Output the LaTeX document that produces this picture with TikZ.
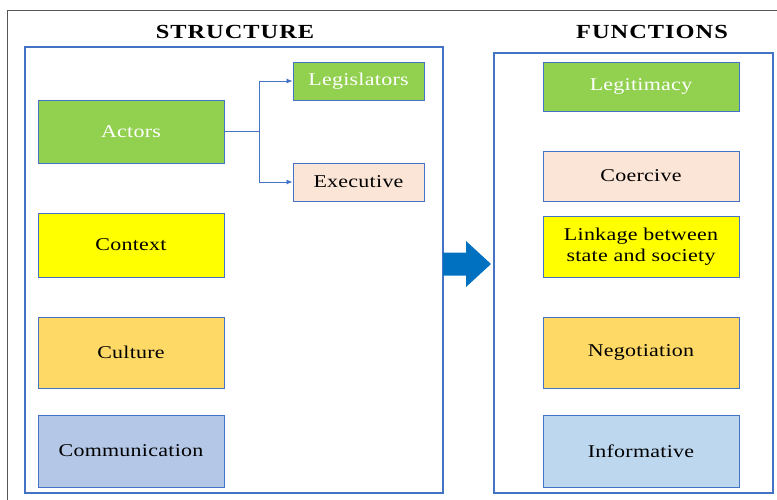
\documentclass[tikz,border=0pt]{standalone}
\usepackage{fontspec}
\setmainfont{Liberation Serif}[FakeStretch=1.22]
\usetikzlibrary{arrows.meta}
\definecolor{frameblue}{HTML}{4472C4}
\definecolor{arrowblue}{HTML}{0070C0}
\definecolor{cgreen}{HTML}{92D050}
\definecolor{cpeach}{HTML}{FBE5D6}
\definecolor{cyellow}{HTML}{FFFF00}
\definecolor{cgold}{HTML}{FFD966}
\definecolor{cslate}{HTML}{B4C7E7}
\definecolor{csky}{HTML}{BDD7EE}
\definecolor{outergrey}{HTML}{555555}
\tikzset{
  box/.style={draw=frameblue, line width=1pt, font=\fontsize{18}{20}\selectfont\addfontfeatures{LetterSpace=1.5}, align=center, inner sep=0pt},
  panel/.style={draw=frameblue, line width=1.8pt},
  heading/.style={font=\fontsize{20}{22}\selectfont\bfseries\addfontfeatures{LetterSpace=5}},
  link/.style={draw=frameblue, line width=0.8pt, -{Latex[length=6pt,width=5pt]}},
}
\begin{document}
\begin{tikzpicture}[x=1pt,y=-1pt]
\useasboundingbox (0,0) rectangle (777,499);
% outer frame, running off the right and bottom edges
\draw[outergrey, line width=1.8pt] (7.5,520) -- (7.5,10.5) -- (800,10.5);

% headings
\node[heading] (hstruct) at (235,32) {STRUCTURE};
\node[heading] (hfunc) at (652,32) {FUNCTIONS};

% panels
\draw[panel] (25,47) rectangle (443,493);
\draw[panel] (494,53) rectangle (773,493);

% structure side
\node[box, fill=cgreen, text=white, minimum width=186pt, minimum height=63pt] (actors) at (131,131.5) {Actors};
\node[box, fill=cgreen, text=white, minimum width=131pt, minimum height=38pt] (legis) at (358.5,81) {Legislators};
\node[box, fill=cpeach, minimum width=131pt, minimum height=38pt] (exec) at (358.5,182) {Executive};
\node[box, fill=cyellow, minimum width=186pt, minimum height=64pt] (context) at (131,245) {Context};
\node[box, fill=cgold, minimum width=186pt, minimum height=71pt] (culture) at (131,352.5) {Culture};
\node[box, fill=cslate, minimum width=186pt, minimum height=72pt] (comm) at (131,451) {Communication};

% functions side
\node[box, fill=cgreen, text=white, minimum width=196pt, minimum height=49pt] (legit) at (641,86.5) {Legitimacy};
\node[box, fill=cpeach, minimum width=196pt, minimum height=50pt] (coerc) at (641,176) {Coercive};
\node[box, fill=cyellow, minimum width=196pt, minimum height=61pt, font=\fontsize{18}{21}\selectfont\addfontfeatures{LetterSpace=1.5}] (link) at (641,246.5) {Linkage between\\state and society};
\node[box, fill=cgold, minimum width=196pt, minimum height=71pt] (nego) at (641,352.5) {Negotiation};
\node[box, fill=csky, minimum width=196pt, minimum height=72pt] (info) at (641,451) {Informative};

% actors branch out to the two bodies
\coordinate (fork) at (259,131.5);
\draw[link] (actors.east) -- (fork) |- (legis.west);
\draw[link] (fork) |- (exec.west);

% block arrow from structure to functions
\coordinate (tip) at (491,264);
\fill[arrowblue] (443,252.5) -- (466,252.5) -- (466,241) -- (tip) -- (466,287) -- (466,275.5) -- (443,275.5) -- cycle;
\end{tikzpicture}
\end{document}
